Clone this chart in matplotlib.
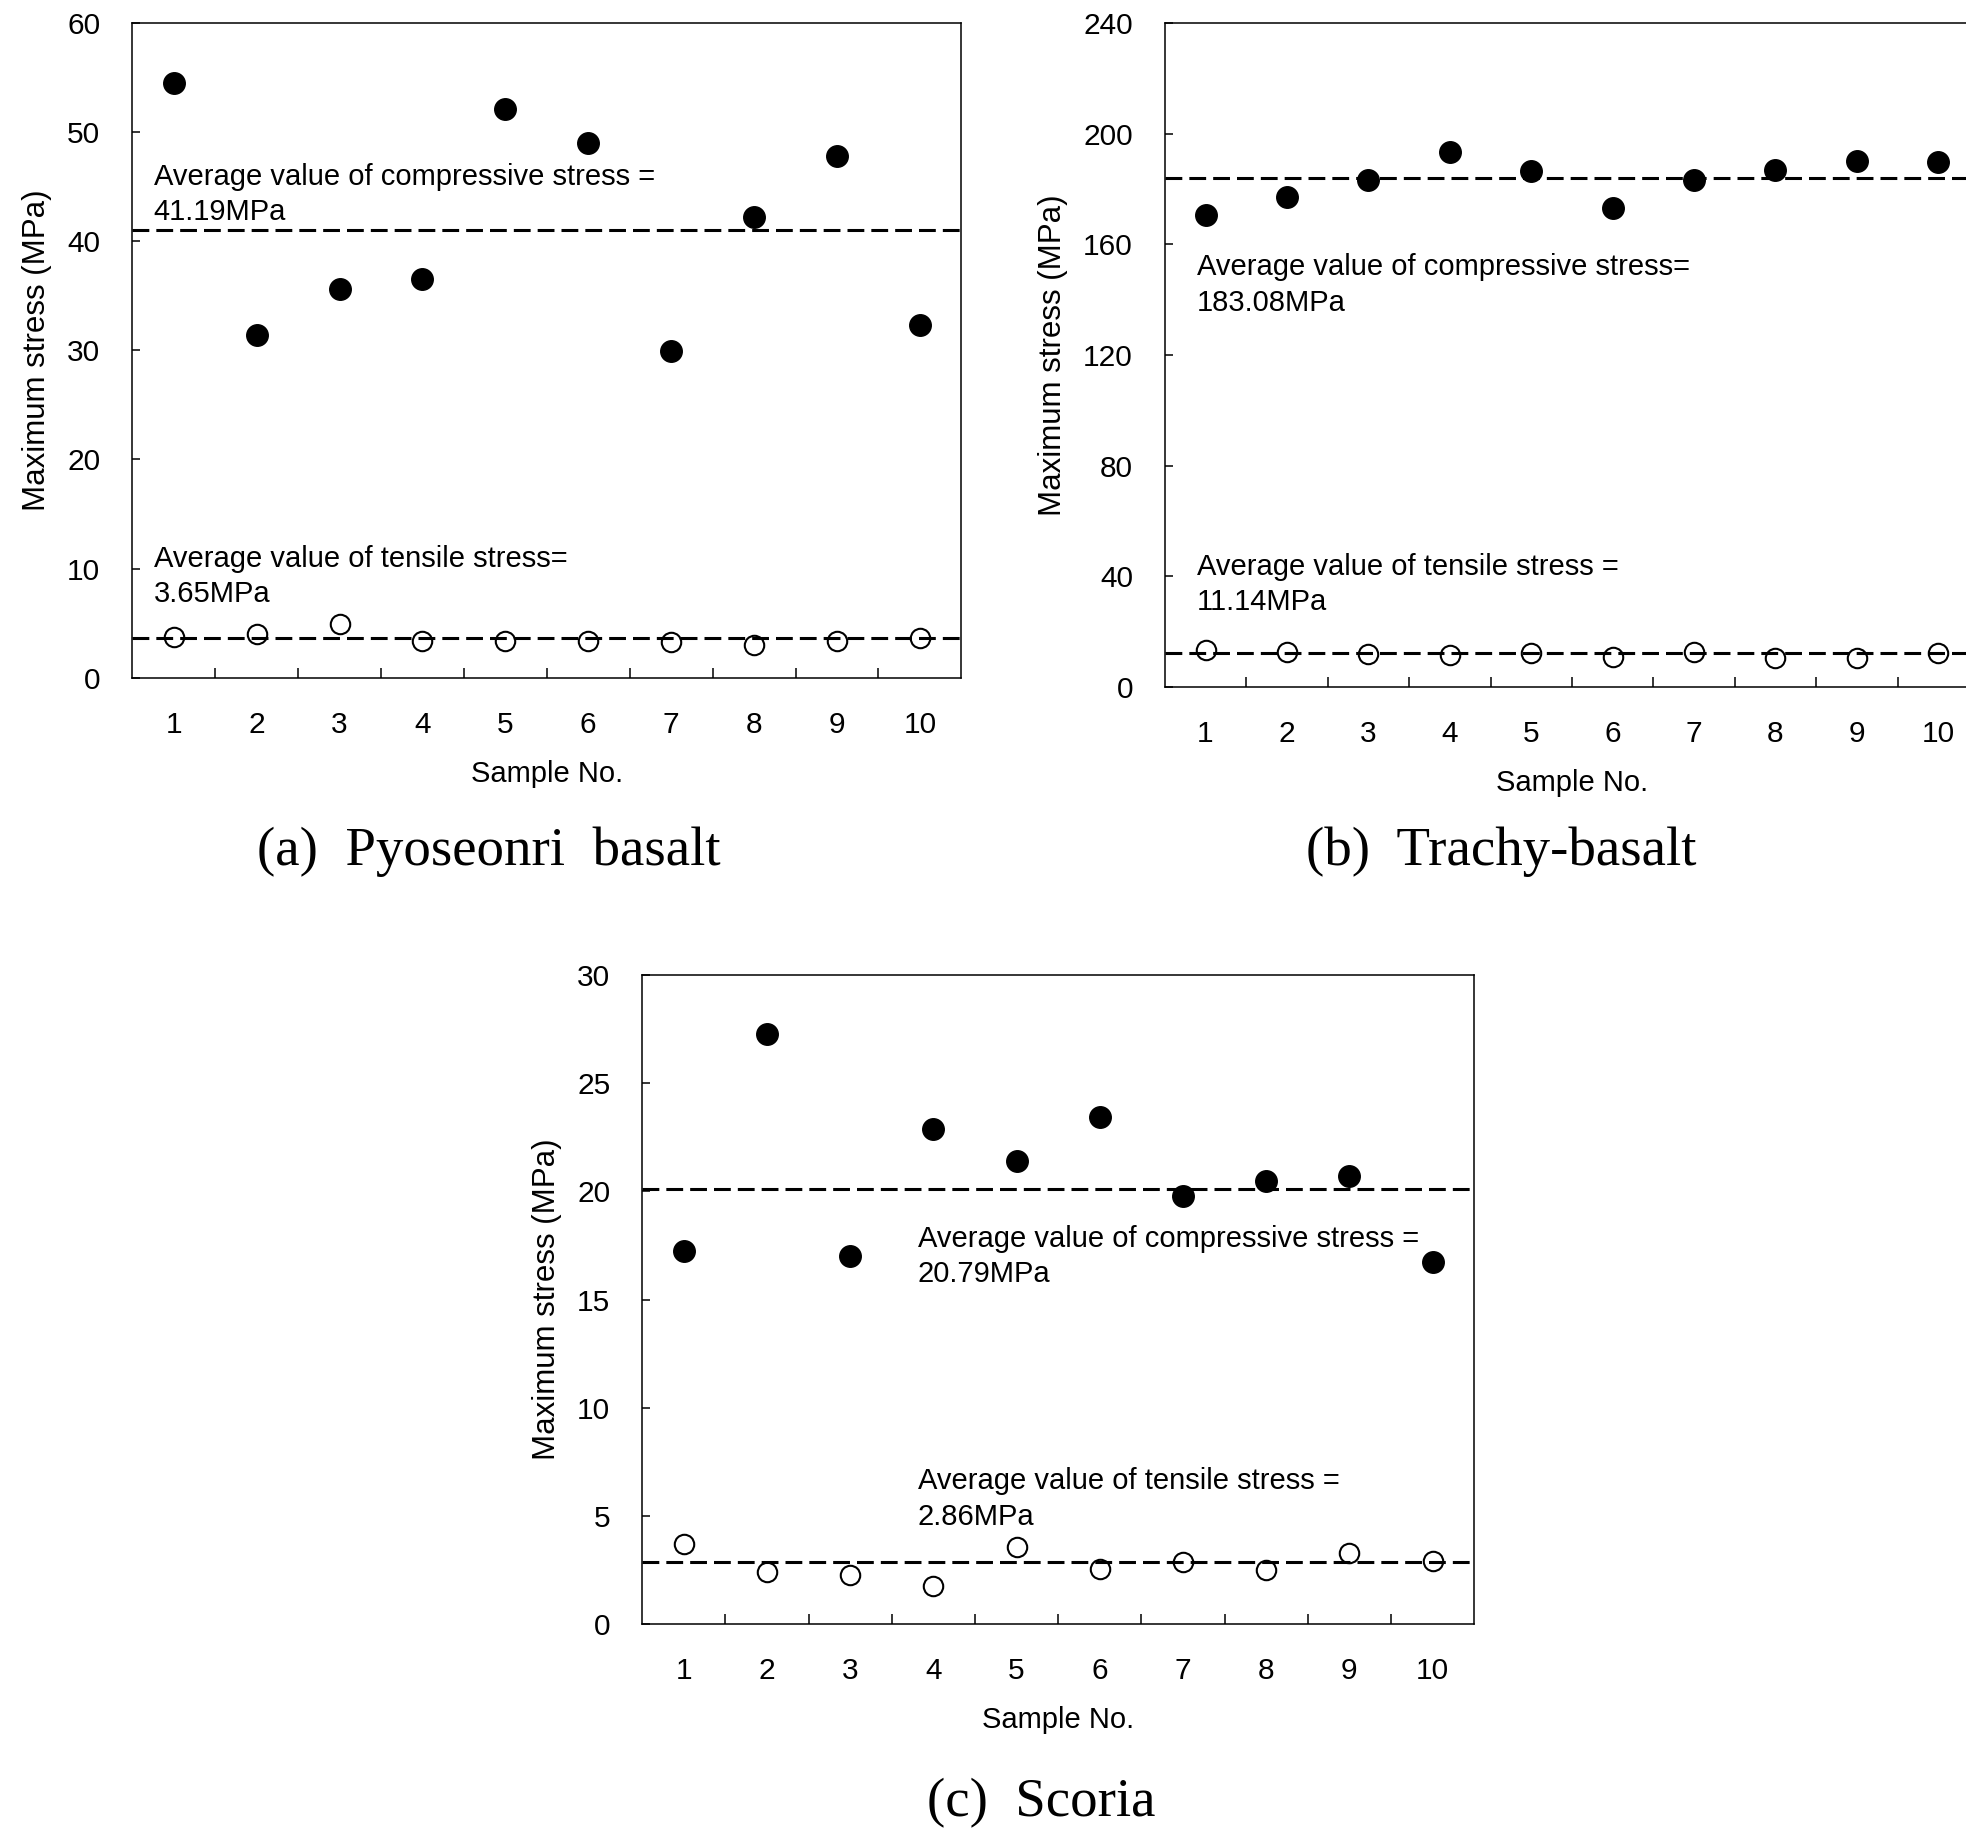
import matplotlib
matplotlib.use("Agg")
import matplotlib.pyplot as plt
import numpy as np

# sample numbers
samples = np.arange(1, 11)

# (a) Pyoseonri basalt
comp_a = [54.5, 31.4, 35.6, 36.5, 52.1, 49.0, 29.9, 42.2, 47.8, 32.3]
tens_a = [3.74, 4.02, 4.96, 3.32, 3.32, 3.32, 3.23, 3.0, 3.37, 3.6]
avg_line_a = [41.0, 3.65]
labels_a = ["Average value of compressive stress =\n41.19MPa",
            "Average value of tensile stress=\n3.65MPa"]

# (b) Trachy-basalt
comp_b = [170.7, 177.0, 183.2, 193.4, 186.4, 173.1, 183.4, 186.7, 190.2, 189.7]
tens_b = [13.3, 12.7, 12.0, 11.4, 12.4, 10.7, 12.5, 10.5, 10.5, 12.4]
avg_line_b = [184.0, 12.3]
labels_b = ["Average value of compressive stress=\n183.08MPa",
            "Average value of tensile stress =\n11.14MPa"]

# (c) Scoria
comp_c = [17.27, 27.27, 17.0, 22.9, 21.4, 23.45, 19.8, 20.5, 20.7, 16.75]
tens_c = [3.71, 2.39, 2.26, 1.74, 3.58, 2.52, 2.86, 2.49, 3.3, 2.91]
avg_line_c = [20.1, 2.85]
labels_c = ["Average value of compressive stress =\n20.79MPa",
            "Average value of tensile stress =\n2.86MPa"]

plt.rcParams['font.family'] = ['Liberation Sans', 'DejaVu Sans']

fig = plt.figure(figsize=(19.66, 18.28), dpi=100)

panels = [
    # axes rect, ylim, ystep, comp, tens, lines, labels, label positions, caption, caption pos
    ([0.0673, 0.6293, 0.4217, 0.3581], 60, 10, comp_a, tens_a, avg_line_a, labels_a,
     [(0.76, 47.2), (0.76, 12.2)], "(a)  Pyoseonri  basalt", (0.2487, 0.5342)),
    ([0.5925, 0.6242, 0.4141, 0.3632], 240, 40, comp_b, tens_b, avg_line_b, labels_b,
     [(0.89, 156.7), (0.89, 48.5)], "(b)  Trachy-basalt", (0.7634, 0.5342)),
    ([0.3267, 0.1116, 0.4231, 0.3549], 30, 5, comp_c, tens_c, avg_line_c, labels_c,
     [(3.81, 18.47), (3.81, 7.25)], "(c)  Scoria", (0.5294, 0.0138)),
]

for rect, ymax, ystep, comp, tens, lines, labels, txt_pos, caption, cap_pos in panels:
    ax = fig.add_axes(rect)
    for y in lines:
        ax.axhline(y, color='black', lw=2.2, dashes=(5.5, 2.3), zorder=2)
    ax.plot(samples, comp, 'o', color='black', ms=15.5, zorder=3)
    ax.plot(samples, tens, 'o', mfc='none', mec='black', mew=1.5, ms=14, zorder=3)

    ax.set_xlim(0.5, 10.5)
    ax.set_ylim(0, ymax)
    ax.set_yticks(np.arange(0, ymax + 1, ystep))
    ax.set_xticks(samples)
    ax.set_xticks(np.arange(1.5, 10, 1), minor=True)
    ax.tick_params(axis='x', which='major', length=0, pad=24, labelsize=21.5)
    ax.tick_params(axis='x', which='minor', direction='in', length=7, width=1.1)
    ax.tick_params(axis='y', direction='in', length=6, width=1.1, pad=23, labelsize=21.5)
    for sp in ax.spines.values():
        sp.set_linewidth(1.1)

    ax.set_xlabel("Sample No.", fontsize=21, labelpad=15)
    ax.set_ylabel("Maximum stress (MPa)", fontsize=22.5, labelpad=11)

    for (tx, ty), s in zip(txt_pos, labels):
        ax.text(tx, ty, s, fontsize=21, ha='left', va='top', linespacing=1.35)

    fig.text(cap_pos[0], cap_pos[1], caption, fontsize=39.5, ha='center', va='center',
             family='Liberation Serif')

fig.savefig("out.png", dpi=100)
